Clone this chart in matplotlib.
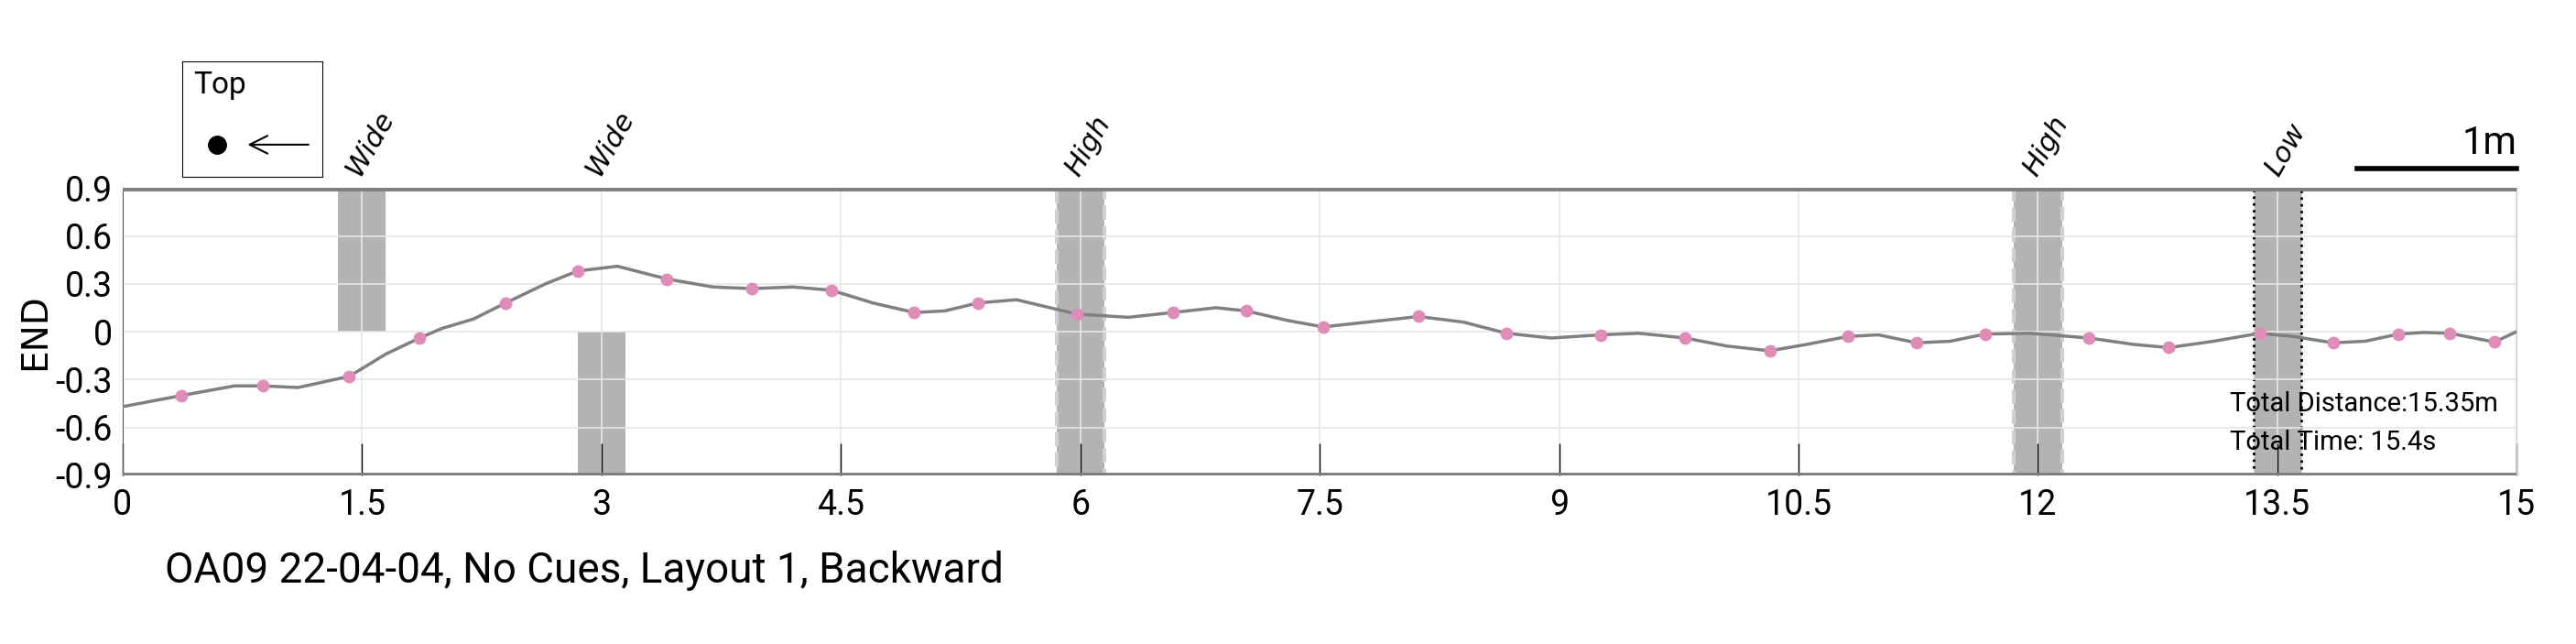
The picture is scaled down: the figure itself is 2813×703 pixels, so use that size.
import matplotlib
matplotlib.use('Agg')
import matplotlib.pyplot as plt
from matplotlib.patches import Rectangle

## Data
marker_t = [0.37, 0.88, 1.42, 1.86, 2.40, 2.85, 3.41, 3.94, 4.44, 4.96, 5.36, 5.98,
            6.58, 7.04, 7.52, 8.12, 8.67, 9.26, 9.79, 10.32, 10.81, 11.24, 11.67,
            12.32, 12.82, 13.39, 13.85, 14.26, 14.58, 14.86]
marker_end = [-0.40, -0.34, -0.28, -0.04, 0.18, 0.38, 0.33, 0.27, 0.26, 0.12, 0.18, 0.11,
              0.12, 0.13, 0.03, 0.095, -0.01, -0.02, -0.04, -0.12, -0.03, -0.07, -0.015,
              -0.04, -0.10, -0.01, -0.07, -0.015, -0.01, -0.065]
line_t = [0, 0.37, 0.7, 0.88, 1.1, 1.42, 1.65, 1.86, 2.0, 2.2, 2.40, 2.65, 2.85, 3.1,
          3.41, 3.7, 3.94, 4.2, 4.44, 4.7, 4.96, 5.15, 5.36, 5.6, 5.98, 6.3, 6.58, 6.85,
          7.04, 7.3, 7.52, 7.8, 8.12, 8.4, 8.67, 8.95, 9.26, 9.5, 9.79, 10.05, 10.32,
          10.55, 10.81, 11.0, 11.24, 11.45, 11.67, 11.95, 12.32, 12.6, 12.82, 13.1,
          13.39, 13.6, 13.85, 14.05, 14.26, 14.42, 14.58, 14.86, 15.0]
line_end = [-0.47, -0.40, -0.34, -0.34, -0.35, -0.28, -0.14, -0.04, 0.02, 0.08, 0.18,
            0.30, 0.38, 0.41, 0.33, 0.28, 0.27, 0.28, 0.26, 0.18, 0.12, 0.13, 0.18, 0.20,
            0.11, 0.09, 0.12, 0.15, 0.13, 0.07, 0.03, 0.06, 0.095, 0.06, -0.01, -0.04,
            -0.02, -0.01, -0.04, -0.09, -0.12, -0.08, -0.03, -0.02, -0.07, -0.06, -0.015,
            -0.01, -0.04, -0.08, -0.10, -0.06, -0.01, -0.03, -0.07, -0.06, -0.015, -0.005,
            -0.01, -0.065, 0.0]
cue_labels = ['Wide', 'Wide', 'High', 'High', 'Low']
cue_t = [1.5, 3.0, 6.0, 12.0, 13.5]
cue_lo = [0.0, -0.9, -0.9, -0.9, -0.9]
cue_hi = [0.9, 0.0, 0.9, 0.9, 0.9]
cue_edge = ['none', 'none', 'dash', 'dash', 'dot']
title = 'OA09 22-04-04, No Cues, Layout 1, Backward'

plt.rcParams['font.family'] = ['Roboto', 'DejaVu Sans']
fig = plt.figure(figsize=(28.13, 7.03), dpi=100)
ax = fig.add_axes([0.0476, 0.262, 0.9294, 0.446])

bar_w = 0.3
for t, lo, hi, e in zip(cue_t, cue_lo, cue_hi, cue_edge):
    if e == 'none':
        ax.add_patch(Rectangle((t - bar_w/2, lo), bar_w, hi - lo, facecolor='#b3b3b3',
                               edgecolor='none', zorder=1))
    elif e == 'dash':
        ax.add_patch(Rectangle((t - bar_w/2, lo), bar_w, hi - lo, facecolor='#b3b3b3',
                               edgecolor='#d0d0d0', lw=3, ls='--', zorder=1))
    else:
        ax.add_patch(Rectangle((t - bar_w/2, lo), bar_w, hi - lo, facecolor='#b3b3b3',
                               edgecolor='black', lw=2, ls=':', zorder=1))

for lab, t in zip(cue_labels, cue_t):
    ax.text(t + 0.05, 0.95, lab, rotation=60, style='italic', fontsize=22,
            ha='center', va='bottom', family=['DejaVu Sans'])

ax.plot(line_t, line_end, color='#808080', lw=2.5, zorder=3)
ax.plot(marker_t, marker_end, 'o', color='#e08cb8', ms=10, mec='none', zorder=4)

ax.axhline(0.9, color='#7f7f7f', lw=5, zorder=5)
ax.axhline(-0.9, color='#7f7f7f', lw=5, zorder=5)

ax.set_xlim(0, 15)
ax.set_ylim(-0.9, 0.9)
ax.set_xticks([0, 1.5, 3, 4.5, 6, 7.5, 9, 10.5, 12, 13.5, 15])
ax.set_xticklabels(['0', '1.5', '3', '4.5', '6', '7.5', '9', '10.5', '12', '13.5', '15'])
ax.set_yticks([0.9, 0.6, 0.3, 0, -0.3, -0.6, -0.9])
ax.set_yticklabels(['0.9', '0.6', '0.3', '0', '-0.3', '-0.6', '-0.9'])
ax.tick_params(labelsize=27, direction='in', length=25, width=1, color='black', pad=10)
ax.tick_params(axis='y', length=0, pad=8)
ax.grid(True, color='#e6e6e6', lw=1.2)
for s in ['top', 'bottom']:
    ax.spines[s].set_visible(False)
ax.spines['left'].set_color('#555555')
ax.spines['right'].set_color('#cccccc')
ax.set_ylabel('END', fontsize=28, family=['DejaVu Sans'], labelpad=2)

ax.text(13.2, -0.5, 'Total Distance:15.35m', fontsize=21)
ax.text(13.2, -0.74, 'Total Time: 15.4s', fontsize=21)

# scale bar
ax.plot([14.0, 15.0], [1.02, 1.02], color='black', lw=4, clip_on=False)
ax.text(15.0, 1.06, '1m', fontsize=30, ha='right', va='bottom')

fig.text(0.064, 0.095, title, fontsize=33)

# orientation box
box = fig.add_axes([0.0706, 0.725, 0.0545, 0.18])
box.set_xticks([])
box.set_yticks([])
box.set_xlim(0, 1)
box.set_ylim(0, 1)
box.text(0.08, 0.72, 'Top', fontsize=24)
box.plot(0.25, 0.28, 'o', color='black', ms=14)
box.annotate('', xy=(0.45, 0.28), xytext=(0.92, 0.28),
             arrowprops=dict(arrowstyle='->', lw=1.5, mutation_scale=35))

fig.savefig('out.png', dpi=100)
